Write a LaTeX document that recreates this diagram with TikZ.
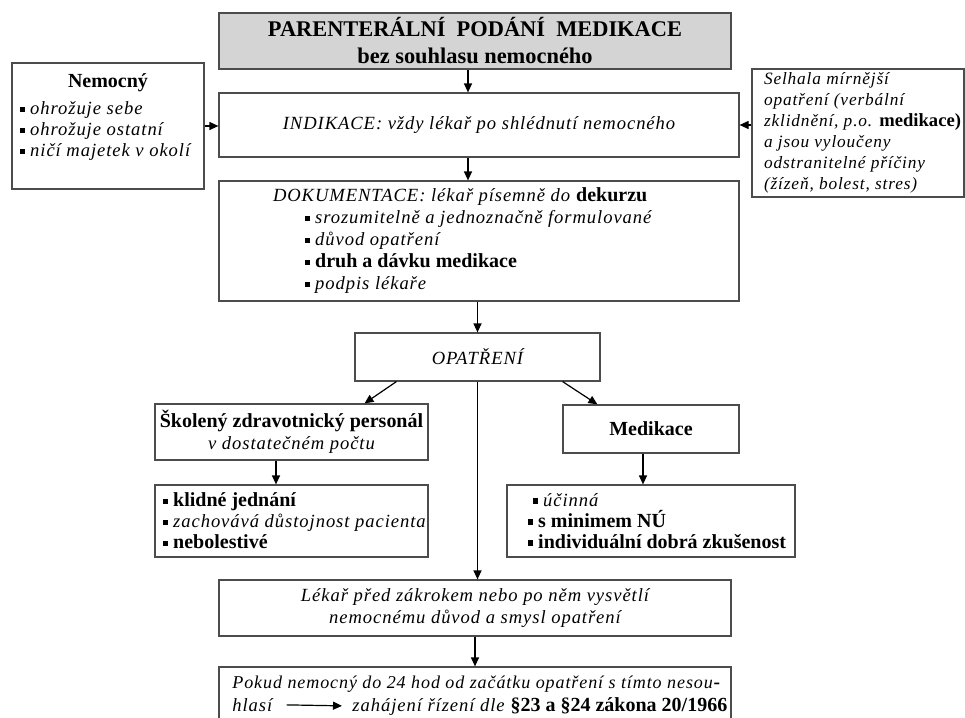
\documentclass[tikz,border=0pt]{standalone}
\usepackage{fontspec}
\setmainfont{Liberation Serif}
\newfontfamily\spaced{Liberation Serif}[LetterSpace=5,Scale=0.93]
\usetikzlibrary{arrows.meta, positioning}
\newcommand\ital[1]{{\spaced\itshape #1}}
\newcommand\bul{\rule[0.3ex]{2.6pt}{2.6pt}\hspace{2.5pt}}
\tikzstyle{box} = [rectangle, draw=black!70, line width=0.6pt, inner sep=0pt,
  align=flush left, font=\fontsize{10}{10.5}\selectfont]
\tikzstyle{line} = [draw, black, line width=0.6pt, -{Triangle[length=4.5pt,width=4pt]}]
\tikzstyle{plain} = [inner sep=0pt, font=\fontsize{10}{10.5}\selectfont]

\begin{document}
\begin{tikzpicture}[x=0.5pt, y=-0.5pt]
    \useasboundingbox (0,0) rectangle (965,718);
    \clip (0,0) rectangle (965,718);

    \node [box, fill=black!17, align=flush center, minimum width=256pt, minimum height=28pt,
      font=\fontsize{11.2}{13.5}\selectfont\bfseries] (title) at (475,41)
      {PARENTERÁLNÍ~~PODÁNÍ~~MEDIKACE\\bez souhlasu nemocného};
    \node [box, text width=96pt, minimum height=63pt] (nemoc) at (108,126)
      {\makebox[96pt]{\textbf{Nemocný}}\\[3pt]
       \hspace*{4pt}\bul\ital{ohrožuje sebe}\\
       \hspace*{4pt}\bul\ital{ohrožuje ostatní}\\
       \hspace*{4pt}\bul\ital{ničí majetek v okolí}\\ \mbox{}};
    \node [box, minimum width=260pt, minimum height=32pt] (indik) at (479,125)
      {\ital{INDIKACE: vždy lékař po shlédnutí nemocného}};
    \node [box, text width=106pt, minimum height=64pt, font=\fontsize{9.3}{10.5}\selectfont]
      (selh) at (858,133)
      {\hspace*{6pt}\ital{Selhala mírnější}\\
       \hspace*{6pt}\ital{opatření (verbální}\\
       \hspace*{6pt}\mbox{\ital{zklidnění, p.o.} \textbf{medikace)}}\\
       \hspace*{6pt}\ital{a jsou vyloučeny}\\
       \hspace*{6pt}\ital{odstranitelné příčiny}\\
       \hspace*{6pt}\ital{(žízeň, bolest, stres)}};
    \node [box, text width=260pt, minimum height=60pt, font=\fontsize{10}{11}\selectfont]
      (dokum) at (479,241)
      {\hspace*{27pt}\ital{DOKUMENTACE: lékař písemně do} \textbf{dekurzu}\\
       \hspace*{43pt}\bul\ital{srozumitelně a jednoznačně formulované}\\
       \hspace*{43pt}\bul\ital{důvod opatření}\\
       \hspace*{43pt}\bul\textbf{druh a dávku medikace}\\
       \hspace*{43pt}\bul\ital{podpis lékaře}};
    \node [box, minimum width=122.5pt, minimum height=24pt] (opatr) at (477.5,357)
      {\ital{OPATŘENÍ}};
    \node [box, align=flush center, minimum width=136.5pt, minimum height=28pt,
      font=\fontsize{10}{11}\selectfont] (skol) at (291.5,432)
      {\textbf{Školený zdravotnický personál}\\\ital{v dostatečném počtu}};
    \node [box, minimum width=88pt, minimum height=24pt] (medik) at (651,429)
      {\textbf{Medikace}};
    \node [box, text width=136.5pt, minimum height=36pt] (klid) at (291.5,521)
      {\hspace*{4pt}\bul\textbf{klidné jednání}\\
       \hspace*{4pt}\bul\ital{zachovává důstojnost pacienta}\\
       \hspace*{4pt}\bul\textbf{nebolestivé}};
    \node [box, text width=144pt, minimum height=36pt] (ucin) at (651,521)
      {\hspace*{13pt}\bul\ital{účinná}\\
       \hspace*{10.5pt}\bul\textbf{s minimem NÚ}\\
       \hspace*{10.5pt}\bul\textbf{individuální dobrá zkušenost}};
    \node [box, align=flush center, minimum width=256pt, minimum height=28pt,
      font=\fontsize{10}{11}\selectfont] (lekar) at (475,608)
      {\ital{Lékař před zákrokem nebo po něm vysvětlí}\\
       \ital{nemocnému důvod a smysl opatření}};
    \node [box, minimum width=256pt, minimum height=30pt] (pokud) at (475,697) {};

    % text of the last box
    \node [plain, anchor=base west, font=\fontsize{9.7}{10.5}\selectfont] (pokud1) at (232,688)
      {\ital{Pokud nemocný do 24 hod od začátku opatření s tímto nesou}\textbf{-}};
    \node [plain, anchor=base west] (hlasi) at (232,711) {\ital{hlasí}};
    \node [plain, anchor=base west] (zahaj) at (352,711)
      {\ital{zahájení řízení dle} \textbf{§23 a §24 zákona 20/1966}};

    \path [line] ([xshift=-3.5pt]title.south) -- ([xshift=-3.5pt]title.south |- indik.north);
    \path [line] (nemoc.east) -- (nemoc.east -| indik.west);
    \path [line] (selh.west |- indik.east) -- (indik.east);
    \path [line] ([xshift=-5.5pt]indik.south) -- ([xshift=-5.5pt]indik.south |- dokum.north);
    \path [line] (dokum.south -| opatr.north) -- (opatr.north);
    \path [line] ([xshift=21pt]opatr.south west) -- ([xshift=36.5pt]skol.north);
    \path [line] ([xshift=-19pt]opatr.south east) -- ([xshift=17.5pt]medik.north west);
    \path [line] (opatr.south) -- (opatr.south |- lekar.north);
    \path [line] ([xshift=-7.75pt]skol.south) -- ([xshift=-7.75pt]klid.north);
    \path [line] ([xshift=-4pt]medik.south) -- ([xshift=-4pt]ucin.north);
    \path [line] (lekar.south) -- (pokud.north);
    \path [line, shorten <=7pt, shorten >=5pt] (hlasi.east) -- (zahaj.west);

  \end{tikzpicture}
\end{document}
